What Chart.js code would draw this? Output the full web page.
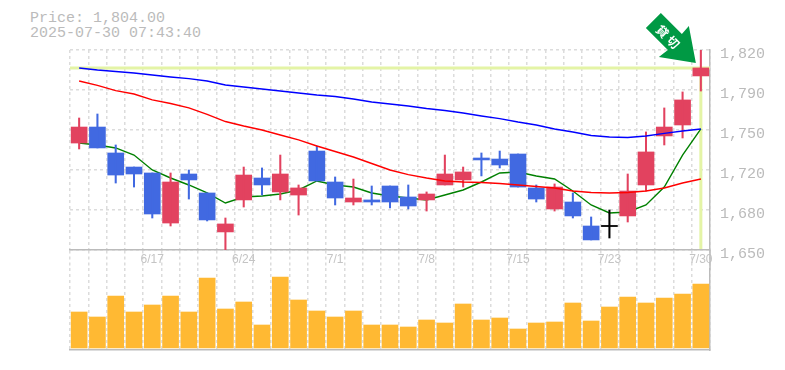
<!DOCTYPE html>
<html>
<head>
<meta charset="utf-8">
<script src="https://cdn.jsdelivr.net/npm/chart.js@4"></script>
<style>
html, body { margin: 0; padding: 0; background: #fff; }
#wrap { position: relative; width: 785px; height: 370px; overflow: hidden; }
#info { position: absolute; left: 30px; top: 11px; color: #bbb; font: 15px/15px "Liberation Mono", monospace; white-space: pre; }
canvas { position: absolute; left: 0; }
</style>
</head>
<body>
<div id="wrap">
<div id="info">Price: 1,804.00
2025-07-30 07:43:40</div>
<canvas id="priceChart" width="785" height="270" style="top:0"></canvas>
<canvas id="volChart" width="785" height="84" style="top:268px"></canvas>
</div>
<script>
const days = ["6/11","6/12","6/13","6/16","6/17","6/18","6/19","6/20","6/23","6/24","6/25","6/26","6/27","6/30","7/1","7/2","7/3","7/4","7/7","7/8","7/9","7/10","7/11","7/14","7/15","7/16","7/17","7/18","7/22","7/23","7/24","7/25","7/28","7/29","7/30"];
const shownDays = ["6/17","6/24","7/1","7/8","7/15","7/23","7/30"];

const opens  = [1743.6,1757.6,1734.9,1722.6,1717.4,1673.6,1716.5,1699.9,1665.8,1693.8,1713,1700.8,1698.1,1736.6,1709.5,1692,1693.8,1706,1696.4,1693.8,1706.9,1711.3,1730.5,1729.6,1734,1704.3,1685.9,1692,1671,1671,1679.8,1706.9,1749.8,1759.4,1802.3];
const closes = [1757.6,1739.3,1715.6,1716.5,1681.5,1709.5,1711.3,1676.3,1672.8,1715.6,1706.9,1716.5,1704.3,1710.4,1695.5,1695.5,1692,1692,1688.5,1699,1716.5,1718.3,1728.8,1724.4,1705.1,1694.6,1705.1,1679.8,1658.8,1671,1701.6,1735.8,1757.6,1781.3,1809.3];
const highs  = [1765.5,1769,1741.9,1722.6,1717.4,1717.4,1720,1699.9,1678,1722.6,1721.8,1733.1,1706.9,1741,1713.9,1712.1,1706,1706,1706.9,1700.8,1733.1,1722.6,1734.9,1736.6,1734,1706.9,1707.8,1699.9,1678.9,1685,1716.5,1753.3,1774.3,1788.3,1825];
const lows   = [1738.4,1739.3,1708.6,1705.1,1678,1671,1694.6,1675.4,1650,1687.6,1698.1,1693.8,1680.6,1710.4,1689.4,1689.4,1689.4,1686.8,1685.9,1684.1,1706.9,1705.1,1714.8,1721.8,1705.1,1692,1684.1,1678,1658.8,1660.5,1674.5,1701.6,1741.9,1748,1789.1];

const maBlue  = [1809.3,1807.5,1806.2,1804.9,1803.1,1801.4,1800,1797.9,1794.4,1792.6,1790.9,1789.1,1787.4,1785.6,1784.3,1782.1,1779.5,1777.8,1776,1773.8,1772.1,1769.9,1767.3,1765,1762,1759.4,1755.9,1753.3,1750.2,1748.9,1748.5,1749.8,1752,1754.1,1755.9];
const maRed   = [1797.9,1794,1789.5,1786.5,1781.3,1778.2,1774.3,1768.6,1762.4,1758.5,1755,1750.6,1746.3,1741,1736.2,1731.4,1725.7,1720,1716,1713,1710.4,1709.5,1709.1,1708.2,1706.9,1705.6,1704.3,1701.6,1700.3,1699.9,1700.3,1701.6,1704.3,1708.6,1712.1];
const maGreen = [1743.6,1741.9,1739.3,1733.1,1720,1713,1706.9,1699.9,1691.1,1696.4,1697.3,1699,1702.5,1710.4,1706.9,1705.1,1699.9,1697.3,1695.5,1693.8,1698.1,1702.5,1709.5,1717.4,1718.3,1714.8,1712.1,1701.6,1689.4,1682.4,1683.3,1689.4,1705.1,1733.1,1755.9];

const volumes = [36,31,52,36,43,52,36,70,39,46,23,71,48,37,31,37,23,23,21,28,25,44,28,30,19,25,26,45,27,41,51,45,50,54,64];

const yTicks = [1650,1685,1720,1755,1790,1825];
const lastPrice = 1809.3;

const RED = "#e2425f", BLUE = "#4169e1", BLACK = "#000";
function candleColor(i) {
    if (opens[i] == closes[i]) return BLACK;
    return closes[i] > opens[i] ? RED : BLUE;
}
const colors = days.map((d, i) => candleColor(i));
// a doji still needs a visible body, so give it one unit
const bodies = days.map((d, i) => opens[i] == closes[i] ? [opens[i] - 0.5, closes[i] + 0.5] : [opens[i], closes[i]]);
const wicks = days.map((d, i) => [lows[i], highs[i]]);

// current price lines + the arrow, hung on the last candle
const marks = {
    id: "marks",
    beforeDatasetsDraw(chart) {
        const { ctx, chartArea, scales } = chart;
        const y = scales.y.getPixelForValue(lastPrice);
        const x = scales.x.getPixelForValue(days.length - 1);
        ctx.save();
        // right edge carries on through the date label strip
        ctx.strokeStyle = "#bbb";
        ctx.lineWidth = 1.5;
        ctx.beginPath();
        ctx.moveTo(chartArea.right, chartArea.bottom);
        ctx.lineTo(chartArea.right, chart.height);
        ctx.stroke();
        ctx.strokeStyle = "#e4f4a6";
        ctx.lineWidth = 3;
        ctx.beginPath();
        ctx.moveTo(chartArea.left, y);
        ctx.lineTo(chartArea.right, y);
        ctx.moveTo(x, y);
        ctx.lineTo(x, chartArea.bottom - 1);
        ctx.stroke();
        ctx.restore();
    },
    afterDatasetsDraw(chart) {
        const { ctx, scales } = chart;
        const x = scales.x.getPixelForValue(days.length - 1);
        const y = scales.y.getPixelForValue(lastPrice);
        ctx.save();
        ctx.translate(x - 5, y - 5);
        ctx.fillStyle = "#009944";
        ctx.beginPath();
        ctx.moveTo(0, 0);
        ctx.lineTo(-37, -6);
        ctx.lineTo(-28, -13);
        ctx.lineTo(-50, -35);
        ctx.lineTo(-35, -50);
        ctx.lineTo(-14, -29);
        ctx.lineTo(-7, -37);
        ctx.closePath();
        ctx.fill();
        ctx.translate(-28, -26);
        ctx.rotate(Math.PI / 4);
        ctx.fillStyle = "#fff";
        ctx.font = "bold 12px 'Noto Sans CJK JP'";
        ctx.textAlign = "center";
        ctx.textBaseline = "middle";
        ctx.fillText("貸", -7.5, 0);
        ctx.fillText("切", 7.5, 0);
        ctx.restore();
    }
};

const GRID = "#dcdcdc", AXIS = "#bbb";
const DASH = [3, 3];

new Chart(document.getElementById("priceChart"), {
    type: "bar",
    data: {
        labels: days,
        datasets: [
            { type: "line", data: maBlue, borderColor: "#0000ff", borderWidth: 1.4, pointRadius: 0, tension: 0, order: 1 },
            { type: "line", data: maRed, borderColor: "#ff0000", borderWidth: 1.4, pointRadius: 0, tension: 0, order: 1 },
            { type: "line", data: maGreen, borderColor: "#008000", borderWidth: 1.4, pointRadius: 0, tension: 0, order: 3 },
            { data: wicks, backgroundColor: colors, barThickness: 1.4, grouped: false, order: 2 },
            { data: bodies, backgroundColor: colors, barThickness: 16, grouped: false, order: 2 }
        ]
    },
    options: {
        responsive: false,
        animation: false,
        layout: { padding: { left: 70, right: 0, top: 50, bottom: 0 } },
        plugins: { legend: { display: false }, tooltip: { enabled: false } },
        scales: {
            x: {
                offset: true,
                afterFit(s) { s.height = 20; },
                grid: { color: GRID, lineWidth: 1.5, offset: true, tickLength: 18, tickBorderDash: DASH, tickColor: GRID, tickWidth: 1.5 },
                border: { display: true, color: AXIS, width: 1.5, dash: DASH },
                ticks: {
                    autoSkip: false, maxRotation: 0, padding: -16, color: "#c4c4c4",
                    font: { family: "Liberation Sans", size: 12 },
                    callback(v, i) { return shownDays.includes(days[i]) ? days[i] : ""; }
                }
            },
            y: {
                position: "right",
                min: 1650, max: 1825,
                afterBuildTicks(s) { s.ticks = yTicks.map(v => ({ value: v })); },
                afterFit(s) { s.width = 75; },
                grid: { color: GRID, lineWidth: 1.5, drawTicks: false },
                border: { display: true, color: AXIS, width: 1.5, dash: DASH },
                ticks: {
                    color: AXIS, padding: 10, labelOffset: 4,
                    font: { family: "Liberation Mono", size: 15 },
                    callback(v) { return (Math.floor(v / 10) * 10).toLocaleString("en-US"); }
                }
            }
        }
    },
    plugins: [marks]
});

new Chart(document.getElementById("volChart"), {
    type: "bar",
    data: { labels: days, datasets: [{ data: volumes, backgroundColor: "#ffb933", barThickness: 16 }] },
    options: {
        responsive: false,
        animation: false,
        layout: { padding: { left: 70, right: 0, top: 0, bottom: 2 } },
        plugins: { legend: { display: false }, tooltip: { enabled: false } },
        scales: {
            x: {
                offset: true,
                afterFit(s) { s.height = 0; },
                grid: { color: GRID, lineWidth: 1.5, offset: true, drawTicks: false },
                border: { display: true, color: AXIS, width: 1.5, dash: DASH },
                ticks: { display: false }
            },
            y: {
                position: "right",
                min: -2, max: 80,
                afterFit(s) { s.width = 75; },
                grid: { display: false },
                border: { display: true, color: AXIS, width: 1.5 },
                ticks: { display: false }
            }
        }
    }
});
</script>
</body>
</html>
